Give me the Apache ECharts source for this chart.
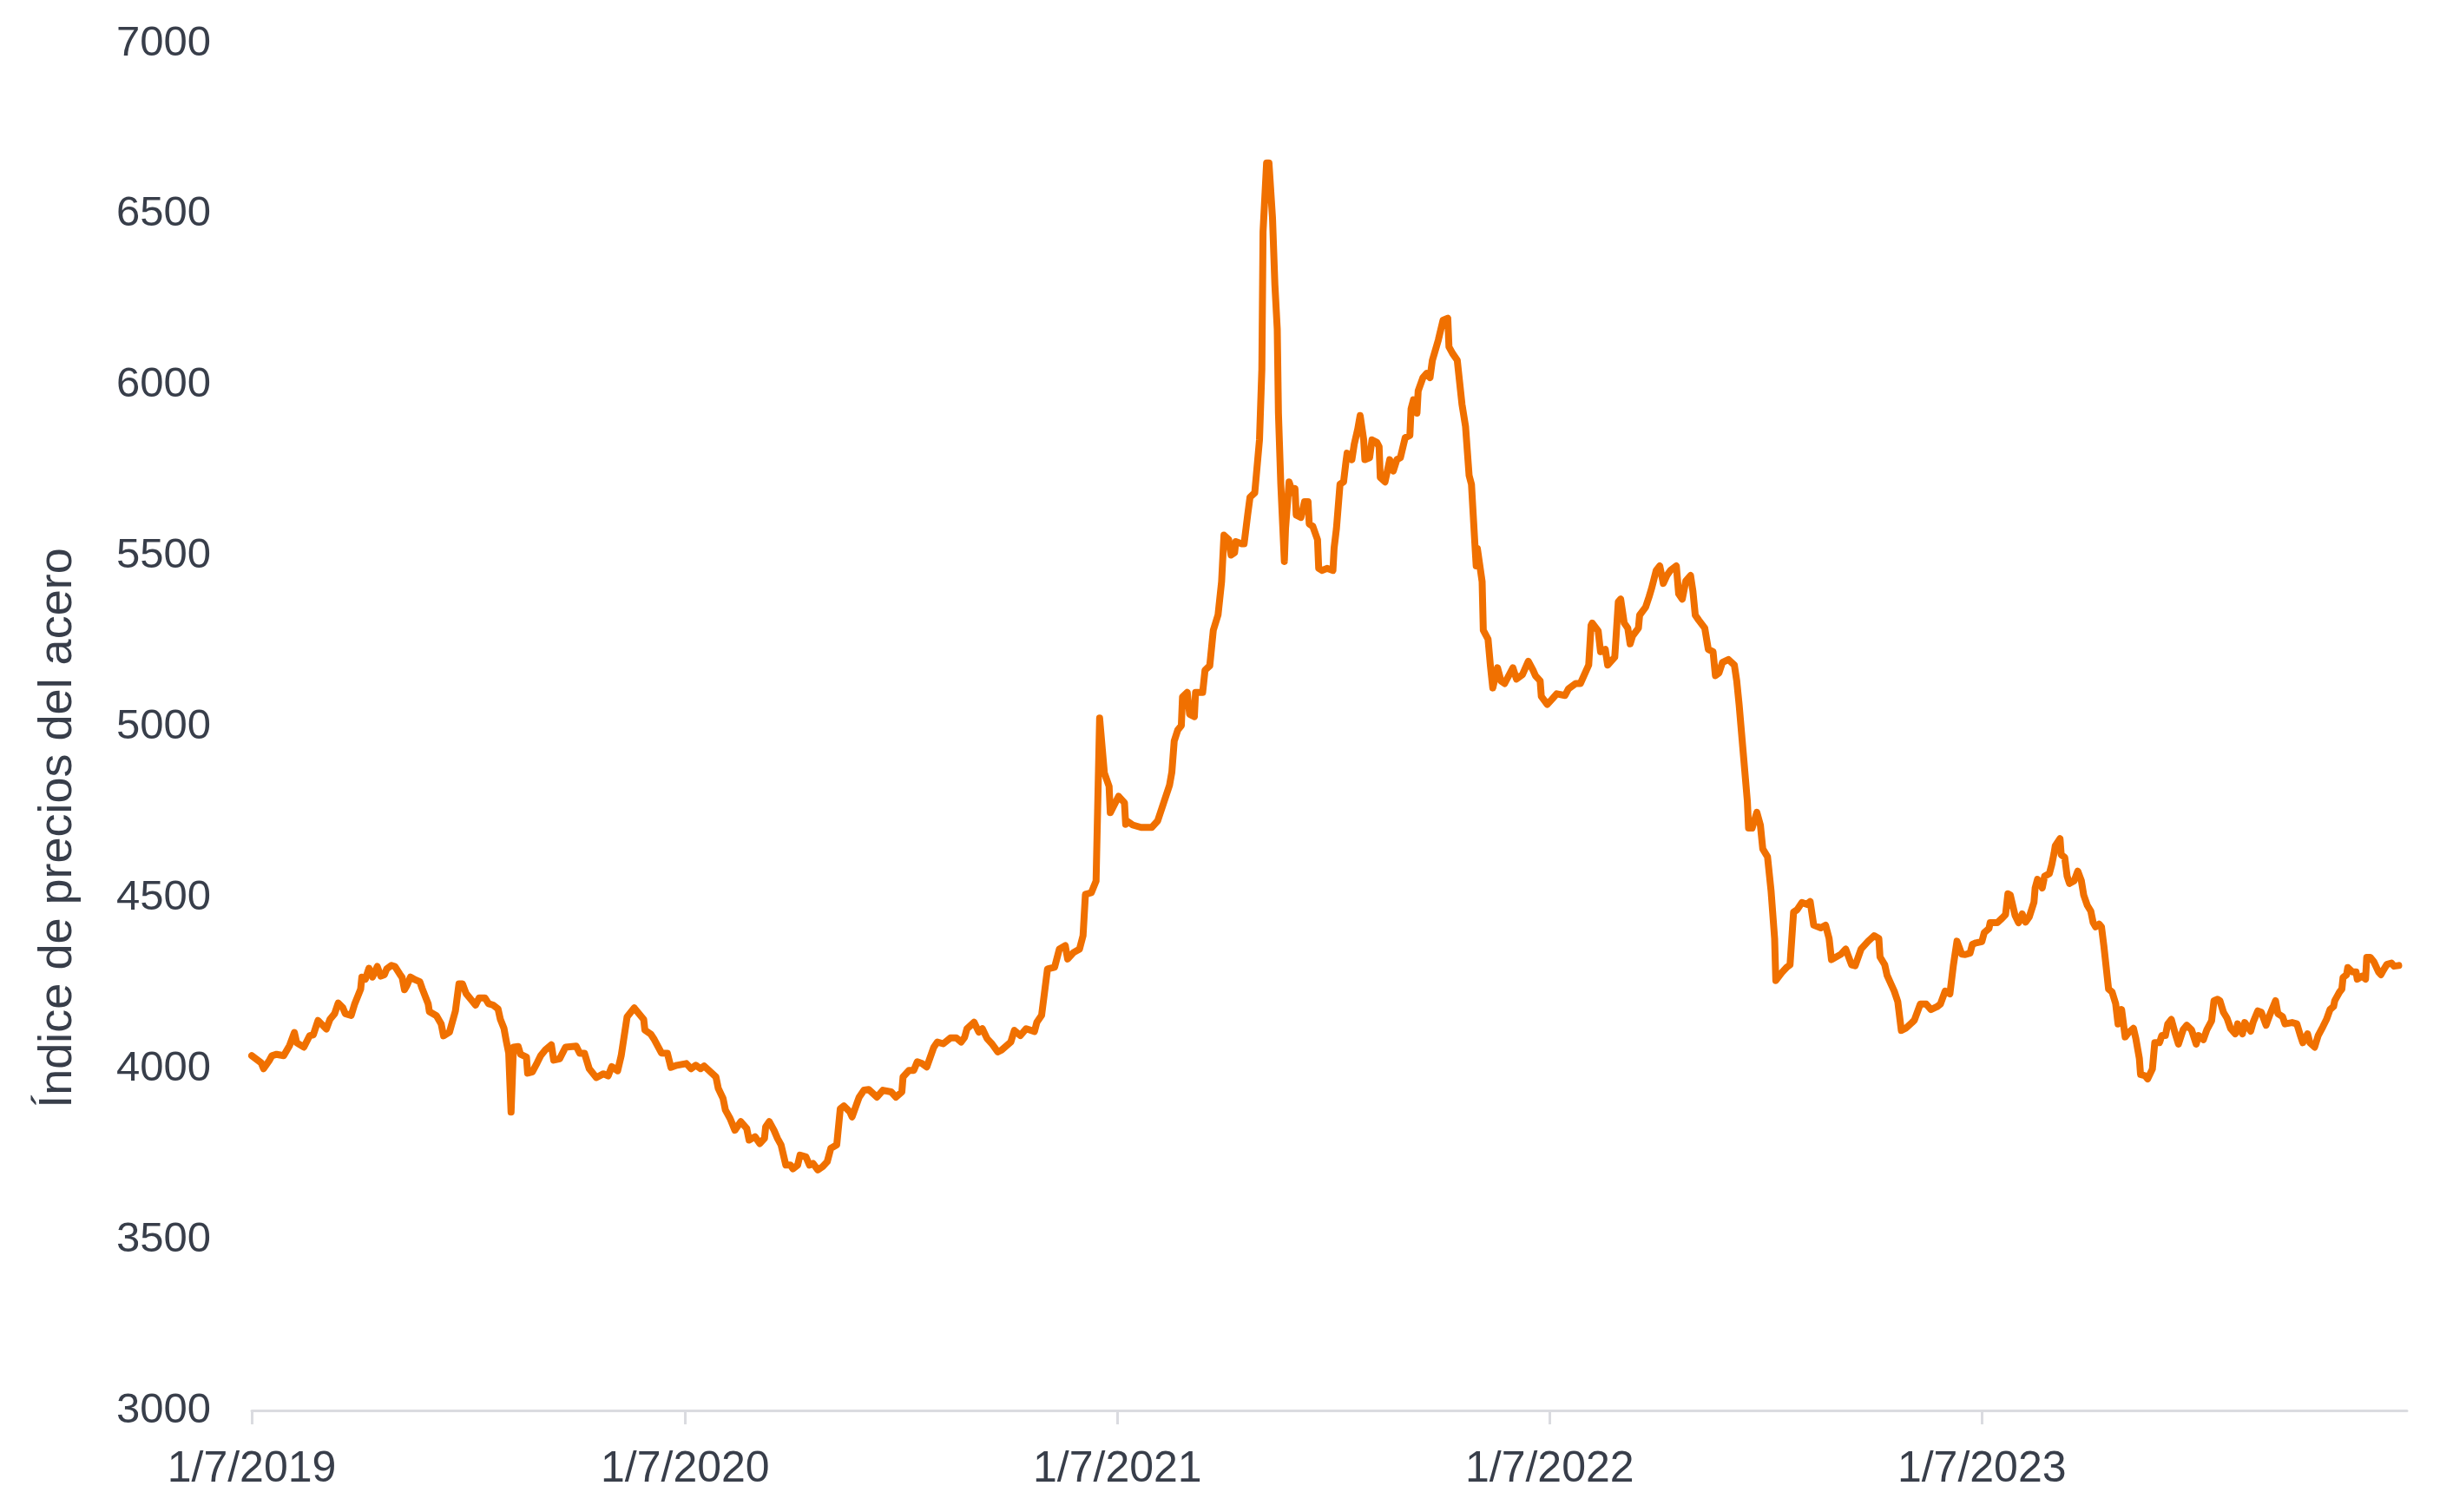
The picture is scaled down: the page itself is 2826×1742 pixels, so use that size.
<!DOCTYPE html>
<html>
<head>
<meta charset="utf-8">
<script src="https://cdn.jsdelivr.net/npm/echarts@6/dist/echarts.min.js"></script>
<style>
  html, body { margin: 0; padding: 0; background: #ffffff; }
  #chart { width: 2826px; height: 1742px; }
</style>
</head>
<body>
<div id="chart"></div>
<script>
const yAxisTitle = 'Índice de precios del acero';
const tickDates = ['2019-07-01', '2020-07-01', '2021-07-01', '2022-07-01', '2023-07-01'];
const tickLabels = ['1/7/2019', '1/7/2020', '1/7/2021', '1/7/2022', '1/7/2023'];
const axisStart = '2019-07-01';
const axisEnd = '2024-06-24';

const dates2019 = ['2019-07-01','2019-07-09','2019-07-11','2019-07-16','2019-07-18','2019-07-22','2019-07-28','2019-08-02','2019-08-06','2019-08-08','2019-08-14','2019-08-19','2019-08-22','2019-08-26','2019-09-02','2019-09-05','2019-09-09','2019-09-12','2019-09-16','2019-09-18','2019-09-23','2019-09-26','2019-10-01','2019-10-02','2019-10-05','2019-10-08','2019-10-11','2019-10-15','2019-10-18','2019-10-21','2019-10-23','2019-10-27','2019-10-30','2019-11-03','2019-11-05','2019-11-07','2019-11-09','2019-11-12','2019-11-15','2019-11-20','2019-11-22','2019-11-27','2019-11-28','2019-12-04','2019-12-08','2019-12-10','2019-12-15','2019-12-20','2019-12-23','2019-12-26','2019-12-29','2020-01-02','2020-01-06','2020-01-09','2020-01-14','2020-01-17','2020-01-21','2020-01-25','2020-01-27','2020-01-30','2020-02-01','2020-02-03','2020-02-05','2020-02-07','2020-02-11','2020-02-13','2020-02-18','2020-02-19','2020-02-23','2020-02-27','2020-03-01','2020-03-05','2020-03-10','2020-03-12','2020-03-17','2020-03-22','2020-03-31','2020-04-03','2020-04-07','2020-04-11','2020-04-17','2020-04-23','2020-04-27','2020-04-30','2020-05-05','2020-05-08','2020-05-13','2020-05-19','2020-05-27','2020-05-28','2020-06-02','2020-06-05','2020-06-11','2020-06-16','2020-06-19'];
const values2019 = [4038,4017,4000,4025,4038,4042,4038,4068,4106,4076,4063,4097,4099,4141,4116,4144,4161,4192,4178,4161,4156,4190,4233,4268,4262,4294,4268,4299,4271,4275,4292,4302,4299,4277,4267,4231,4243,4268,4262,4254,4234,4190,4167,4155,4131,4096,4107,4169,4248,4248,4220,4203,4186,4207,4207,4190,4186,4175,4144,4118,4080,4046,3873,4063,4065,4042,4034,3987,3991,4017,4038,4055,4070,4025,4029,4063,4066,4045,4045,4000,3974,3985,3979,4006,3994,4038,4152,4178,4144,4113,4101,4085,4046,4045,4004];

const dates2020 = ['2020-06-24','2020-07-02','2020-07-06','2020-07-10','2020-07-14','2020-07-17','2020-07-27','2020-07-29','2020-08-02','2020-08-04','2020-08-08','2020-08-12','2020-08-17','2020-08-22','2020-08-24','2020-08-29','2020-09-02','2020-09-06','2020-09-07','2020-09-10','2020-09-14','2020-09-17','2020-09-20','2020-09-24','2020-09-28','2020-09-30','2020-10-04','2020-10-06','2020-10-11','2020-10-14','2020-10-17','2020-10-21','2020-10-25','2020-10-29','2020-11-01','2020-11-06','2020-11-09','2020-11-12','2020-11-17','2020-11-19','2020-11-23','2020-11-25','2020-11-29','2020-12-03','2020-12-10','2020-12-15','2020-12-22','2020-12-26','2020-12-31','2021-01-01','2021-01-06','2021-01-10','2021-01-13','2021-01-17','2021-01-21','2021-01-27','2021-01-30','2021-02-04','2021-02-10','2021-02-15','2021-02-19','2021-02-22','2021-02-24','2021-03-02','2021-03-06','2021-03-09','2021-03-13','2021-03-17','2021-03-22','2021-03-25','2021-04-02','2021-04-05','2021-04-10','2021-04-15','2021-04-22','2021-04-24','2021-04-28','2021-05-03','2021-05-09','2021-05-13','2021-05-18','2021-05-20','2021-05-25','2021-05-30','2021-06-02','2021-06-04','2021-06-09','2021-06-13','2021-06-16','2021-06-20','2021-06-24','2021-06-25','2021-07-02','2021-07-07','2021-07-08'];
const values2020 = [4010,4015,4000,4010,4000,4008,3976,3942,3913,3879,3854,3820,3845,3825,3791,3801,3781,3796,3830,3845,3820,3796,3777,3718,3718,3707,3718,3747,3742,3718,3723,3704,3713,3728,3767,3777,3883,3891,3874,3859,3898,3917,3937,3939,3917,3937,3932,3917,3932,3976,3995,3995,4020,4015,4005,4063,4078,4073,4090,4090,4078,4092,4117,4136,4107,4117,4088,4073,4049,4054,4078,4112,4097,4117,4109,4136,4156,4292,4297,4350,4360,4321,4340,4350,4389,4510,4515,4549,5026,4865,4826,4749,4797,4778,4715];

const dates2021 = ['2021-07-09','2021-07-14','2021-07-21','2021-07-30','2021-08-04','2021-08-09','2021-08-14','2021-08-16','2021-08-18','2021-08-21','2021-08-24','2021-08-25','2021-08-29','2021-08-31','2021-09-04','2021-09-05','2021-09-11','2021-09-13','2021-09-17','2021-09-20','2021-09-24','2021-09-27','2021-09-29','2021-10-03','2021-10-05','2021-10-08','2021-10-09','2021-10-14','2021-10-16','2021-10-19','2021-10-21','2021-10-25','2021-10-29','2021-10-31','2021-11-01','2021-11-04','2021-11-06','2021-11-09','2021-11-11','2021-11-13','2021-11-14','2021-11-16','2021-11-19','2021-11-20','2021-11-23','2021-11-26','2021-11-28','2021-11-29','2021-12-03','2021-12-06','2021-12-09','2021-12-10','2021-12-13','2021-12-17','2021-12-18','2021-12-21','2021-12-25','2021-12-30','2021-12-31','2022-01-02','2022-01-05','2022-01-08','2022-01-10','2022-01-11','2022-01-15','2022-01-17','2022-01-20','2022-01-22','2022-01-25','2022-01-26','2022-01-30','2022-02-01','2022-02-05','2022-02-07','2022-02-08','2022-02-12','2022-02-16','2022-02-19','2022-02-22','2022-02-25','2022-03-01','2022-03-05','2022-03-06','2022-03-08','2022-03-11','2022-03-12','2022-03-16','2022-03-19','2022-03-22','2022-03-24','2022-03-29','2022-04-02','2022-04-06','2022-04-07','2022-04-10','2022-04-14','2022-04-18','2022-04-21','2022-04-24','2022-04-26','2022-04-29','2022-04-30','2022-05-01','2022-05-05','2022-05-06','2022-05-10','2022-05-12','2022-05-14','2022-05-18','2022-05-21','2022-05-24','2022-05-31','2022-06-03','2022-06-08','2022-06-13'];
const values2021 = [4725,4713,4706,4706,4725,4777,4829,4868,4959,4991,5004,5088,5101,5037,5030,5101,5101,5166,5179,5283,5328,5425,5561,5548,5503,5510,5542,5536,5536,5620,5672,5685,5840,6047,6449,6650,6650,6488,6294,6164,5918,5710,5484,5581,5717,5685,5697,5620,5613,5659,5659,5594,5587,5548,5464,5458,5464,5458,5523,5581,5710,5717,5775,5801,5782,5827,5872,5911,5840,5782,5788,5840,5833,5820,5730,5717,5782,5749,5782,5788,5846,5853,5931,5957,5918,5983,6022,6034,6022,6073,6132,6190,6196,6112,6093,6073,5944,5879,5736,5710,5529,5471,5522,5425,5283,5257,5179,5114,5173,5134,5127,5173,5140,5153,5192];

const dates2022 = ['2022-06-17','2022-06-19','2022-06-23','2022-06-24','2022-06-29','2022-07-03','2022-07-07','2022-07-14','2022-07-17','2022-07-23','2022-07-27','2022-08-03','2022-08-05','2022-08-06','2022-08-11','2022-08-13','2022-08-17','2022-08-19','2022-08-25','2022-08-28','2022-08-30','2022-09-02','2022-09-05','2022-09-07','2022-09-09','2022-09-14','2022-09-15','2022-09-20','2022-09-23','2022-09-25','2022-09-29','2022-10-02','2022-10-05','2022-10-08','2022-10-11','2022-10-16','2022-10-18','2022-10-21','2022-10-24','2022-10-28','2022-10-30','2022-11-01','2022-11-04','2022-11-09','2022-11-12','2022-11-16','2022-11-18','2022-11-21','2022-11-24','2022-11-29','2022-12-04','2022-12-06','2022-12-08','2022-12-12','2022-12-15','2022-12-16','2022-12-19','2022-12-23','2022-12-26','2022-12-28','2023-01-01','2023-01-04','2023-01-07','2023-01-08','2023-01-13','2023-01-17','2023-01-20','2023-01-23','2023-01-26','2023-01-30','2023-02-03','2023-02-06','2023-02-09','2023-02-15','2023-02-19','2023-02-22','2023-02-24','2023-03-04','2023-03-08','2023-03-13','2023-03-16','2023-03-21','2023-03-27','2023-04-01','2023-04-05','2023-04-06','2023-04-10','2023-04-12','2023-04-15','2023-04-18','2023-04-21','2023-04-24','2023-04-28','2023-05-03','2023-05-05','2023-05-10','2023-05-15','2023-05-19','2023-05-24','2023-05-27','2023-05-31','2023-06-04','2023-06-07','2023-06-10','2023-06-14'];
const values2022 = [5166,5150,5135,5089,5066,5081,5097,5092,5112,5127,5127,5181,5297,5304,5281,5220,5227,5181,5204,5366,5374,5304,5289,5243,5266,5289,5327,5350,5381,5404,5458,5471,5420,5443,5458,5471,5389,5374,5427,5443,5397,5327,5312,5289,5227,5220,5150,5158,5189,5197,5181,5135,5066,4904,4781,4704,4704,4750,4712,4643,4620,4520,4381,4258,4281,4296,4304,4458,4465,4486,4481,4489,4420,4412,4420,4381,4319,4335,4350,4304,4301,4350,4373,4389,4381,4327,4304,4273,4250,4227,4196,4112,4119,4135,4142,4189,4189,4173,4181,4189,4227,4219,4304,4373,4335];

const dates2023 = ['2023-06-17','2023-06-21','2023-06-23','2023-06-26','2023-07-01','2023-07-03','2023-07-07','2023-07-08','2023-07-14','2023-07-18','2023-07-21','2023-07-23','2023-07-25','2023-07-29','2023-08-01','2023-08-04','2023-08-07','2023-08-10','2023-08-14','2023-08-15','2023-08-17','2023-08-21','2023-08-23','2023-08-27','2023-08-29','2023-08-31','2023-09-01','2023-09-05','2023-09-06','2023-09-09','2023-09-11','2023-09-13','2023-09-17','2023-09-20','2023-09-23','2023-09-25','2023-09-28','2023-10-01','2023-10-03','2023-10-05','2023-10-08','2023-10-10','2023-10-12','2023-10-16','2023-10-19','2023-10-22','2023-10-24','2023-10-27','2023-10-30','2023-11-02','2023-11-06','2023-11-08','2023-11-11','2023-11-12','2023-11-16','2023-11-18','2023-11-22','2023-11-24','2023-11-28','2023-11-30','2023-12-03','2023-12-05','2023-12-08','2023-12-11','2023-12-14','2023-12-18','2023-12-21','2023-12-25','2023-12-29','2023-12-31','2024-01-04','2024-01-07','2024-01-11','2024-01-13','2024-01-16','2024-01-18','2024-01-21','2024-01-24','2024-01-27','2024-01-31','2024-02-02','2024-02-06','2024-02-08','2024-02-13','2024-02-15','2024-02-19','2024-02-22','2024-02-26','2024-02-29','2024-03-05','2024-03-07','2024-03-11','2024-03-13','2024-03-19','2024-03-23','2024-03-26','2024-03-28','2024-04-01','2024-04-03','2024-04-07','2024-04-10','2024-04-14','2024-04-17','2024-04-20','2024-04-23','2024-04-24','2024-04-28','2024-04-30','2024-05-01','2024-05-04','2024-05-05','2024-05-09','2024-05-12','2024-05-13','2024-05-17','2024-05-20','2024-05-21','2024-05-24','2024-05-27','2024-05-31','2024-06-02','2024-06-04','2024-06-07','2024-06-11','2024-06-13','2024-06-17'];
const values2023 = [4334,4338,4364,4368,4372,4398,4410,4427,4427,4440,4451,4512,4508,4449,4427,4453,4429,4444,4487,4529,4554,4529,4563,4571,4597,4631,4652,4673,4626,4618,4563,4542,4550,4578,4550,4508,4478,4461,4427,4415,4423,4415,4360,4233,4224,4190,4131,4173,4093,4106,4118,4089,4030,3983,3979,3970,3999,4076,4076,4097,4097,4131,4144,4106,4072,4114,4127,4114,4072,4097,4085,4114,4140,4199,4203,4199,4165,4148,4118,4102,4131,4102,4135,4110,4135,4169,4165,4127,4156,4199,4161,4152,4131,4135,4131,4097,4076,4102,4076,4063,4097,4123,4144,4173,4182,4199,4224,4233,4267,4275,4296,4283,4283,4262,4271,4262,4326,4326,4313,4283,4275,4288,4305,4309,4300,4302];

const dates = [].concat(dates2019, dates2020, dates2021, dates2022, dates2023);
const values = [].concat(values2019, values2020, values2021, values2022, values2023);

const textColor = '#383e4a';
const fontFamily = '"Liberation Sans", Arial, Helvetica, sans-serif';
const toTime = d => Date.parse(d + 'T00:00:00Z');
const tickTimes = tickDates.map(toTime);

const chart = echarts.init(document.getElementById('chart'), null, { renderer: 'canvas' });

chart.setOption({
  animation: false,
  backgroundColor: '#ffffff',
  grid: { left: 290, right: 53, top: 50, bottom: 117, containLabel: false },
  xAxis: {
    type: 'value',
    min: toTime(axisStart),
    max: toTime(axisEnd),
    splitLine: { show: false },
    axisLine: { show: true, onZero: false, lineStyle: { color: '#dadbe0', width: 3 } },
    axisTick: { show: true, customValues: tickTimes, length: 16, lineStyle: { color: '#dadbe0', width: 3 } },
    axisLabel: {
      customValues: tickTimes,
      fontSize: 50,
      fontFamily: fontFamily,
      color: textColor,
      margin: 43,
      formatter: function (v) {
        let best = 0, bd = Infinity;
        tickTimes.forEach((t, i) => { const d = Math.abs(t - v); if (d < bd) { bd = d; best = i; } });
        return tickLabels[best];
      }
    }
  },
  yAxis: {
    type: 'value',
    min: 3000,
    max: 7000,
    interval: 500,
    splitLine: { show: false },
    axisLine: { show: false },
    axisTick: { show: false },
    axisLabel: {
      fontSize: 49,
      fontFamily: fontFamily,
      color: textColor,
      margin: 47,
      formatter: v => String(v)
    }
  },
  graphic: [{
    type: 'text',
    x: 67,
    y: 954,
    rotation: Math.PI / 2,
    style: {
      text: yAxisTitle,
      fontSize: 54,
      fontFamily: fontFamily,
      fill: textColor,
      align: 'center',
      verticalAlign: 'middle'
    }
  }],
  series: [{
    type: 'line',
    data: dates.map((d, i) => [toTime(d), values[i]]),
    showSymbol: false,
    symbol: 'none',
    smooth: false,
    lineStyle: { color: '#f07000', width: 8, cap: 'round', join: 'round' },
    itemStyle: { color: '#f07000' }
  }]
});
</script>
</body>
</html>
